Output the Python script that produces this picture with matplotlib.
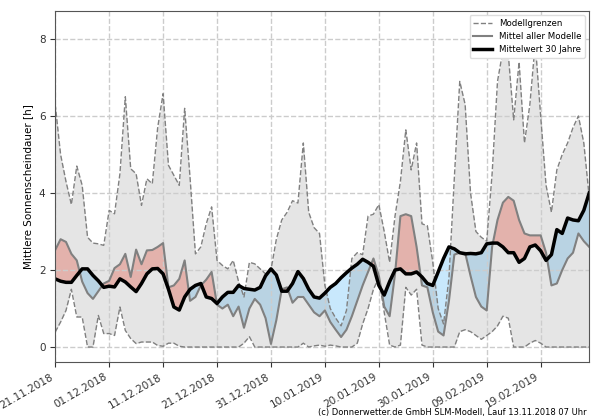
import matplotlib
matplotlib.use("Agg")
import matplotlib.pyplot as plt
import matplotlib.dates as mdates
import numpy as np
import pandas as pd

# Tageswerte 21.11.2018 - 28.02.2019
dates = pd.date_range("2018-11-21", periods=100, freq="D")

modell_max = [
    6.3, 5.0, 4.3, 3.7, 4.7, 4.2, 2.85, 2.7, 2.68, 2.64,
    3.55, 3.46, 4.5, 6.5, 4.63, 4.5, 3.68, 4.37, 4.24, 5.7,
    6.58, 4.72, 4.46, 4.2, 6.2, 4.4, 2.42, 2.6, 3.2, 3.64,
    2.25, 2.12, 2.03, 2.25, 1.7, 1.3, 2.2, 2.16, 2.03, 1.9,
    2.0, 2.8, 3.3, 3.5, 3.8, 3.74, 5.3, 3.5, 3.1, 2.95,
    1.6, 1.0, 0.75, 0.55, 0.95, 2.3, 2.45, 2.4, 3.4, 3.45,
    3.7, 3.0, 2.2, 3.4, 4.3, 5.64, 4.6, 5.3, 3.2, 3.15,
    2.2, 1.0, 0.6, 1.8, 4.4, 6.9, 6.3, 4.0, 3.0, 2.85,
    2.75, 4.5, 6.9, 7.7, 7.6, 5.9, 7.4, 5.3, 6.3, 7.9,
    6.0, 4.2, 3.5, 4.6, 5.0, 5.3, 5.7, 6.0, 5.3, 3.9,
]

modell_min = [
    0.39, 0.65, 0.95, 1.5, 0.78, 0.78, 0.0, 0.0, 0.82, 0.35,
    0.35, 0.3, 1.04, 0.43, 0.22, 0.09, 0.13, 0.13, 0.13, 0.04,
    0.02, 0.1, 0.1, 0.02, 0.0, 0.0, 0.0, 0.0, 0.0, 0.0,
    0.0, 0.0, 0.0, 0.0, 0.0, 0.1, 0.27, 0.0, 0.0, 0.0,
    0.0, 0.0, 0.0, 0.0, 0.0, 0.0, 0.1, 0.0, 0.03, 0.05,
    0.02, 0.05, 0.03, 0.0, 0.0, 0.0, 0.1, 0.6, 1.0, 1.5,
    1.8, 0.9, 0.05, 0.0, 0.05, 1.55, 1.35, 1.5, 0.05, 0.0,
    0.0, 0.0, 0.0, 0.0, 0.0, 0.4, 0.45, 0.4, 0.3, 0.2,
    0.3, 0.4, 0.55, 0.8, 0.75, 0.0, 0.0, 0.0, 0.1, 0.17,
    0.1, 0.0, 0.0, 0.0, 0.0, 0.0, 0.0, 0.0, 0.0, 0.0,
]

modell_mittel = [
    2.52, 2.8, 2.73, 2.42, 2.25, 1.7, 1.4, 1.25, 1.45, 1.65,
    1.72, 2.05, 2.15, 2.42, 1.82, 2.53, 2.15, 2.51, 2.52, 2.6,
    2.7, 1.55, 1.6, 1.77, 2.25, 1.2, 1.3, 1.6, 1.75, 1.95,
    1.1, 1.0, 1.1, 0.8, 1.05, 0.5, 1.0, 1.25, 1.1, 0.75,
    0.08, 0.7, 1.5, 1.55, 1.15, 1.3, 1.3, 1.1, 0.9, 0.8,
    0.95, 0.65, 0.45, 0.26, 0.45, 0.8, 1.2, 1.6, 1.95, 2.3,
    1.85, 1.05, 0.8, 1.9, 3.4, 3.45, 3.4, 2.6, 1.6, 1.55,
    0.9, 0.4, 0.3, 1.2, 2.4, 2.45, 2.45, 1.85, 1.3, 1.05,
    0.95, 2.6, 3.3, 3.75, 3.9, 3.8, 3.3, 2.95, 2.9, 2.9,
    2.9, 2.45, 1.6, 1.65, 2.0, 2.3, 2.45, 2.95, 2.75, 2.6,
]

mittel_30j = [
    1.77, 1.71, 1.68, 1.68, 1.86, 2.03, 2.03, 1.86, 1.72, 1.55,
    1.58, 1.56, 1.77, 1.69, 1.56, 1.44, 1.65, 1.9, 2.03, 2.04,
    1.9, 1.5, 1.04, 0.96, 1.3, 1.5, 1.6, 1.65, 1.3, 1.26,
    1.13, 1.3, 1.42, 1.42, 1.6, 1.52, 1.5, 1.48, 1.55, 1.85,
    2.03, 1.87, 1.45, 1.45, 1.65, 1.96, 1.78, 1.5, 1.3, 1.27,
    1.4, 1.55, 1.65, 1.8, 1.93, 2.05, 2.15, 2.28, 2.2, 2.1,
    1.6, 1.35, 1.7, 2.0, 2.03, 1.9, 1.9, 1.95, 1.82, 1.65,
    1.6, 1.95, 2.3, 2.6, 2.55, 2.45, 2.42, 2.43, 2.42, 2.45,
    2.68, 2.7, 2.7, 2.6, 2.45, 2.45, 2.2, 2.3, 2.6, 2.65,
    2.5, 2.25, 2.4, 3.05, 2.95, 3.35, 3.3, 3.28, 3.55, 4.0,
]

mx = np.array(modell_max)
mn = np.array(modell_min)
mm = np.array(modell_mittel)
clim = np.array(mittel_30j)

fig = plt.figure(figsize=(6, 4.2), dpi=100)
ax = fig.add_axes([0.092, 0.138, 0.89, 0.836])

# Abweichung Modellmittel gegen 30-jaehriges Mittel
ax.fill_between(dates, mm, clim, where=mm >= clim, interpolate=True,
                color="salmon", alpha=0.5, lw=0)
ax.fill_between(dates, mm, clim, where=mm <= clim, interpolate=True,
                color="lightskyblue", alpha=0.45, lw=0)
# Bandbreite der Modelle
ax.fill_between(dates, mn, mx, color="gray", alpha=0.2, lw=0)

ax.plot(dates, mx, color="gray", ls="--", lw=1, label="Modellgrenzen")
ax.plot(dates, mn, color="gray", ls="--", lw=1)
ax.plot(dates, mm, color="gray", lw=1.5, label="Mittel aller Modelle")
ax.plot(dates, clim, color="black", lw=2.5, label="Mittelwert 30 Jahre")

ax.set_xlim(dates[0], dates[-1])
ax.set_ylim(-0.39, 8.73)
ax.set_yticks([0, 2, 4, 6, 8])
ax.set_xticks(dates[::10])
ax.xaxis.set_major_formatter(mdates.DateFormatter("%d.%m.%Y"))
plt.setp(ax.get_xticklabels(), rotation=30, ha="right")
ax.tick_params(labelsize=7.5, colors="#333333")

ax.grid(True, ls="--", color="#cccccc", lw=1)
for s in ax.spines.values():
    s.set_color("#555555")

ax.set_ylabel("Mittlere Sonnenscheindauer [h]", fontsize=7.5)
ax.legend(loc="upper right", fontsize=6.2, framealpha=1, edgecolor="#dddddd",
          borderpad=0.4, handlelength=2.2)

fig.text(0.977, 0.008, "(c) Donnerwetter.de GmbH SLM-Modell, Lauf 13.11.2018 07 Uhr",
         ha="right", va="bottom", fontsize=6.0)

fig.savefig("out.png", dpi=100)
